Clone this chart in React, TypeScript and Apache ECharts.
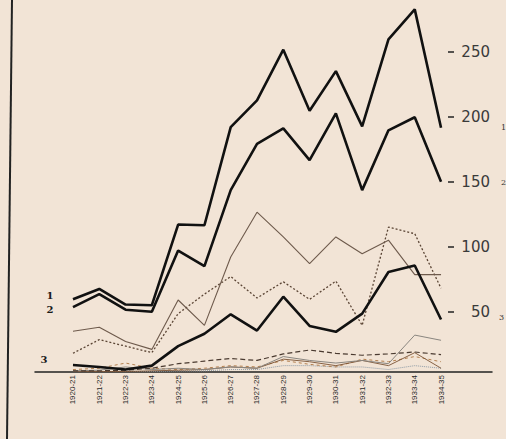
import React, { useEffect, useRef } from "react";
import * as echarts from "echarts";

const categories = [
  "1920-21", "1921-22", "1922-23", "1923-24", "1924-25", "1925-26", "1926-27", "1927-28",
  "1928-29", "1929-30", "1930-31", "1931-32", "1932-33", "1933-34", "1934-35",
];
const yTicks = [50, 100, 150, 200, 250];

const series1 = [59.5, 67.5, 55.5, 55, 117, 116.5, 192, 212.5, 251.5, 204.5, 235, 192.5, 259.5, 282.5, 191.5];
const series2 = [53.5, 63.5, 51.5, 50, 97, 85, 143.5, 179, 191, 166.5, 202.5, 143.5, 189.5, 199.5, 150];
const series3 = [9, 7.5, 5.5, 8.5, 23.5, 33, 48, 35.5, 61.5, 39, 34.5, 48.5, 80.5, 85.5, 44];
const series4 = [35, 38, 27, 21, 59, 39.5, 92, 126.5, 107.5, 87, 107.5, 94.5, 105, 78.5, 78.5];
const series5 = [18, 28.5, 23.5, 18.5, 48.5, 63.5, 77, 60.5, 73, 59.5, 73.5, 39.5, 115, 110, 68];
const series6 = [4.5, 4.5, 5, 6.5, 10, 12, 14, 12.5, 17.5, 20.5, 18, 16.5, 17.5, 19, 17];
const series7 = [4.5, 5, 7.5, 5.5, 6.5, 5.5, 7.5, 6.5, 15.5, 12.5, 10.5, 12.5, 10, 32, 28];
const series8 = [4, 4, 4, 4.5, 5, 5.5, 7.5, 6.5, 13.5, 11.5, 8.5, 12.5, 8.5, 18.5, 6.5];
const series9 = [5.5, 6.5, 10.5, 6.5, 5.5, 6.5, 8.5, 7.5, 12.5, 9.5, 7.5, 13.5, 11.5, 15.5, 11.5];
const series10 = [4, 4, 4, 4, 4.5, 4.5, 5.5, 5.5, 8.5, 8.5, 7.5, 7.5, 5.5, 8.5, 6.5];

const labelFont = { fontFamily: "DejaVu Serif", fontWeight: "bold" as const, fontSize: 10, color: "#1a1a1a" };

function pts(vals: number[]) {
  return vals.map((v, i) => [i, v]);
}

function thick(name: string, vals: number[], first: { text: string; distance: number; offset: number[] }, endOffset: number[]) {
  return {
    name,
    type: "line",
    data: pts(vals),
    symbol: "none",
    z: 5,
    lineStyle: { color: "#111", width: 2.6 },
    endLabel: {
      show: true,
      formatter: first.text,
      offset: endOffset,
      fontFamily: "DejaVu Serif",
      fontSize: 8,
      color: "#333",
    },
    markPoint: {
      symbol: "circle",
      symbolSize: 1,
      itemStyle: { color: "rgba(0,0,0,0)" },
      data: [
        {
          coord: [0, vals[0]],
          label: {
            show: true,
            position: "left",
            distance: first.distance,
            offset: first.offset,
            formatter: first.text,
            ...labelFont,
          },
        },
      ],
    },
  };
}

function thin(name: string, vals: number[], color: string, type: any, width: number) {
  return {
    name,
    type: "line",
    data: pts(vals),
    symbol: "none",
    z: 3,
    lineStyle: { color, width, type },
  };
}

export default function App() {
  const ref = useRef<HTMLDivElement>(null);
  useEffect(() => {
    document.body.style.margin = "0";
    const chart = echarts.init(ref.current!, null, { renderer: "svg" });
    chart.setOption({
      animation: false,
      backgroundColor: "#f2e4d6",
      grid: [
        { left: 35, right: 58, top: 0, bottom: 62.3 },
        { left: 35, right: 14, top: 0, bottom: 67 },
        { left: 448, right: 52, top: 0, bottom: 62.3 },
      ],
      xAxis: [
        {
          type: "value",
          gridIndex: 0,
          min: -1.445,
          max: 14.265,
          show: false,
        },
        {
          type: "value",
          gridIndex: 1,
          min: -1.445,
          max: 15.94,
          axisLine: { show: true, lineStyle: { color: "#222", width: 1.5 } },
          axisTick: { show: false },
          splitLine: { show: false },
          axisLabel: {
            customValues: categories.map((_, i) => i),
            formatter: (v: number) => categories[Math.round(v)] ?? "",
            rotate: 90,
            fontSize: 8,
            fontFamily: "Liberation Sans",
            color: "#2a2a2a",
            margin: 3,
          },
        },
        {
          type: "value",
          gridIndex: 2,
          min: 0,
          max: 1,
          show: false,
        },
      ],
      yAxis: [
        {
          type: "value",
          gridIndex: 0,
          position: "right",
          min: 0,
          max: 289.7,
          axisLine: { show: false },
          splitLine: { show: false },
          axisTick: { show: false },
          axisLabel: {
            customValues: yTicks,
            align: "right",
            margin: 42,
            fontSize: 15,
            fontFamily: "DejaVu Sans",
            color: "#3a3a3a",
          },
        },
        {
          type: "value",
          gridIndex: 1,
          min: 0,
          max: 1,
          show: false,
        },
        {
          type: "value",
          gridIndex: 2,
          min: 0,
          max: 289.7,
          interval: 50,
          axisLine: { show: false },
          axisTick: { show: false },
          axisLabel: { show: false },
          splitLine: {
            show: true,
            showMinLine: false,
            showMaxLine: false,
            lineStyle: { color: "#222", width: 1.5 },
          },
        },
      ],
      graphic: [
        {
          type: "line",
          shape: { x1: 12, y1: 0, x2: 7, y2: 439 },
          style: { stroke: "#222", lineWidth: 2 },
        },
      ],
      series: [
        thin("s10", series10, "#8c9aa6", "dotted", 1),
        thin("s9", series9, "#b4804f", [3, 3], 1),
        thin("s8", series8, "#7a5234", "solid", 0.9),
        thin("s7", series7, "#8a8680", "solid", 1),
        thin("s6", series6, "#4a3a30", [5, 3], 1.2),
        thin("s5", series5, "#5b4535", [2, 2], 1.3),
        thin("s4", series4, "#6e5a4c", "solid", 1.1),
        thick("1", series1, { text: "1", distance: 19, offset: [0, -4] }, [52, 0]),
        thick("2", series2, { text: "2", distance: 19, offset: [0, 2] }, [52, 1]),
        thick("3", series3, { text: "3", distance: 25, offset: [0, -5] }, [50, -2]),
      ],
    });
    return () => chart.dispose();
  }, []);
  return <div ref={ref} style={{ width: 506, height: 439 }} />;
}
